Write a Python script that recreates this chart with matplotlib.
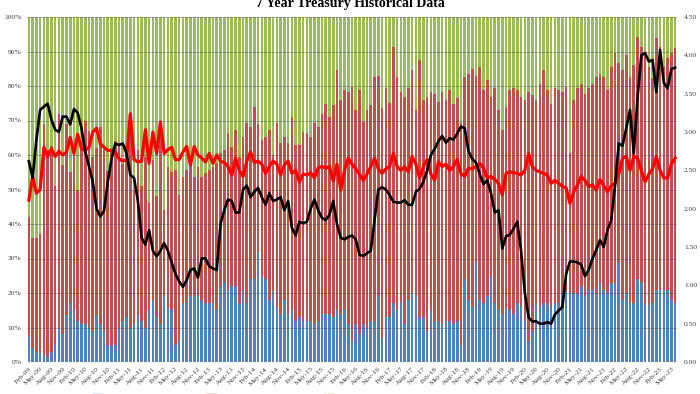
import numpy as np
import pandas as pd
import matplotlib
matplotlib.use("Agg")
import matplotlib.pyplot as plt
from matplotlib.patches import Patch
from matplotlib.lines import Line2D

plt.rcParams['font.family'] = ['Liberation Serif', 'DejaVu Serif']

# monthly 7y auctions, Feb-09 .. Jun-23
months = pd.date_range("2009-02-01", periods=173, freq="MS")

# Direct take (% of total)
direct = [
    7.5, 4, 3, 2.5, 2, 1.5, 3, 5, 10, 8, 13.5, 17, 15, 12, 11, 11, 10, 9, 13.5, 11,
    9, 5, 4.5, 5, 10, 12, 13, 10, 11, 13.5, 12, 10, 15, 18, 13,
    11, 19, 16, 15, 5, 6, 17, 17, 19, 19, 19, 18, 17, 17, 17, 15, 22, 23, 21, 22,
    22, 17, 21, 17, 24, 24, 32, 25, 24, 18, 21, 16, 14, 18,
    14, 15, 12, 13, 12, 12, 12, 11, 12, 14, 14, 14, 13, 15, 14, 15, 11, 6, 11, 8,
    11, 10, 12, 12, 19, 7, 13, 13, 17, 15, 17, 11, 18, 20,
    19, 13, 13, 9, 15, 12, 12, 11, 12, 12, 11, 12, 5, 24, 18, 16, 29, 18, 17, 19,
    25, 17, 15, 14, 16, 15, 14, 17, 16, 12, 6, 9, 17, 16,
    17, 17, 16, 17, 17, 20, 20.5, 20, 20, 20, 22, 19, 21, 21, 20, 23, 21, 20, 23, 23,
    28.6, 18, 20, 17, 17, 24, 23, 17, 16.5, 17, 21, 21, 21, 21, 18, 17,
]

# Dealer take (% of total)
dealer = [
    58, 64, 64, 63, 31, 38.5, 37.5, 49, 28, 43, 31, 45, 38.5, 50, 36, 30, 33, 40.5, 38, 32,
    38.5, 44.5, 38.5, 36, 36.5, 42.5, 37.5, 33, 50, 38.5, 49, 40.5, 54, 41.5, 52,
    31, 56, 43.4, 45, 44.3, 51.6, 46.3, 44.3, 40.5, 46.3, 43.4, 46.3, 45.3, 44.3, 43.4,
    42.4, 39.5, 38.5, 33.7, 37.6, 32.8, 40.5, 34.7, 30.8, 31.8, 26, 31, 35.7, 34.7,
    32.8, 40, 30.8, 36.6, 34.7,
    36.6, 29, 37, 37.1, 33.2, 33.7, 34.7, 30.8, 31.8, 28, 25.1, 29, 25.6, 15.5, 24.1,
    21.2, 21.7, 20.2, 27, 21.2, 30.4, 27, 25.6, 17.5, 17, 26.5, 20.7, 25, 8.6, 17.5,
    21.7, 23.1, 20.7, 15.5,
    27, 12.6, 24.1, 23.1, 21.7, 22.2, 24.6, 21.7, 24.1, 21.2, 25.1, 23.6, 30.8, 17.5,
    16.4, 15, 17, 14.4, 21.2, 18.4, 23.1, 20.7, 27, 32.8, 26, 21.2, 20.7, 21.2, 23.1,
    24.1, 21.7, 22.6, 24.1, 19.3,
    15.5, 21.2, 25.1, 20.7, 21.2, 21.7, 20.2, 39.5, 24.1, 20.7, 19.3, 22.2, 20.7, 19.3,
    17.5, 16.5, 17.4, 21.2, 14.4, 10.5, 13.4, 15.4, 11, 17.4, 14, 5.8, 8.6, 10, 14.4,
    17.8, 6.2, 8.6, 14.4, 12, 10.5, 9,
]

# Bid to cover (RHS)
btc = [
    2.11, 2.42, 2.20, 2.25, 2.80, 2.68, 2.78, 2.68, 2.75, 2.70, 2.74, 2.93, 2.72, 2.97,
    2.78, 2.76, 2.80, 3.00, 3.05, 2.85, 2.80, 2.76, 2.76, 2.74, 2.65, 2.62, 2.64, 3.24,
    2.64, 2.61, 2.62, 3.03, 2.59, 3.00, 2.72,
    3.13, 2.72, 2.77, 2.80, 2.64, 2.64, 2.74, 2.81, 2.57, 2.81, 2.70, 2.66, 2.61, 2.72,
    2.59, 2.70, 2.62, 2.60, 2.55, 2.44, 2.66, 2.50, 2.42, 2.62, 2.74, 2.60, 2.62, 2.58,
    2.46, 2.55, 2.62, 2.58, 2.44, 2.57,
    2.62, 2.46, 2.50, 2.35, 2.45, 2.44, 2.47, 2.40, 2.53, 2.55, 2.53, 2.55, 2.36, 2.58,
    2.24, 2.50, 2.66, 2.58, 2.52, 2.45, 2.37, 2.45, 2.55, 2.66, 2.52, 2.46, 2.52, 2.55,
    2.72, 2.55, 2.50, 2.55, 2.48, 2.68,
    2.58, 2.40, 2.55, 2.64, 2.45, 2.37, 2.61, 2.55, 2.58, 2.50, 2.55, 2.64, 2.46, 2.42,
    2.53, 2.52, 2.55, 2.59, 2.53, 2.40, 2.42, 2.38, 2.33, 2.18, 2.46, 2.48, 2.47, 2.46,
    2.44, 2.50, 2.72, 2.55, 2.50, 2.48,
    2.46, 2.44, 2.33, 2.37, 2.33, 2.29, 2.27, 2.07, 2.22, 2.31, 2.42, 2.37, 2.29, 2.31,
    2.24, 2.38, 2.30, 2.22, 2.30, 2.33, 2.45, 2.66, 2.68, 2.50, 2.68, 2.66, 2.50, 2.35,
    2.45, 2.52, 2.68, 2.50, 2.40, 2.40, 2.58, 2.66,
]

# High yield (RHS)
high_yield = [
    2.62, 2.40, 2.90, 3.29, 3.33, 3.37, 3.16, 3.03, 3.00, 3.20, 3.20, 3.10, 3.30, 3.25,
    3.05, 2.75, 2.55, 2.35, 2.00, 1.90, 1.97, 2.35, 2.65, 2.85, 2.83, 2.85, 2.72, 2.44,
    2.40, 2.10, 1.62, 1.53, 1.72, 1.45, 1.38,
    1.45, 1.55, 1.45, 1.30, 1.15, 1.05, 0.98, 1.07, 1.20, 1.22, 1.10, 1.35, 1.35, 1.25,
    1.22, 1.20, 1.80, 1.98, 2.12, 2.10, 1.95, 1.95, 2.25, 2.30, 2.15, 2.22, 2.27, 2.15,
    2.05, 2.20, 2.10, 2.12, 2.15, 1.98,
    2.10, 1.75, 1.65, 1.83, 1.81, 1.83, 2.00, 2.12, 1.98, 1.88, 1.85, 1.92, 2.10, 1.80,
    1.62, 1.60, 1.63, 1.65, 1.60, 1.40, 1.38, 1.42, 1.45, 1.85, 2.25, 2.28, 2.25, 2.18,
    2.09, 2.08, 2.08, 2.11, 2.05, 2.05,
    2.22, 2.26, 2.35, 2.50, 2.70, 2.78, 2.88, 2.95, 2.86, 2.92, 2.90, 2.98, 3.07, 3.05,
    2.75, 2.65, 2.60, 2.45, 2.32, 2.37, 2.20, 1.95, 1.98, 1.48, 1.64, 1.66, 1.74, 1.83,
    1.45, 0.90, 0.58, 0.53, 0.53, 0.50,
    0.50, 0.52, 0.50, 0.62, 0.67, 0.72, 1.15, 1.31, 1.31, 1.30, 1.27, 1.12, 1.20, 1.35,
    1.46, 1.59, 1.50, 1.72, 1.85, 2.30, 2.85, 2.82, 3.05, 3.29, 2.72, 3.45, 4.00, 4.03,
    3.92, 3.94, 3.52, 4.07, 3.64, 3.57, 3.82, 3.84,
]

direct = np.array(direct)
dealer = np.array(dealer)
indirect = 100 - direct - dealer
x = np.arange(len(months))

fig = plt.figure(figsize=(7, 3.94), dpi=100)
ax = fig.add_axes([27/700, 1 - 362/394, 650/700, 345/394])
ax2 = ax.twinx()

w = 0.7
ax.bar(x, direct, width=w, color="#4F81BD", lw=0)
ax.bar(x, indirect, width=w, bottom=direct, color="#C0504D", lw=0)
ax.bar(x, dealer, width=w, bottom=direct + indirect, color="#9BBB59", lw=0)

ax2.plot(x, btc, color="#FF0000", lw=2.3, solid_joinstyle="round")
ax2.plot(x, high_yield, color="black", lw=1.9, solid_joinstyle="round")

ax.set_xlim(-0.5, len(x) - 0.5)
ax.set_ylim(0, 100)
ax.set_yticks(np.arange(0, 101, 10))
ax.set_yticklabels([f"{v}%" for v in range(0, 101, 10)])
ax2.set_ylim(0, 4.5)
ax2.set_yticks(np.arange(0, 4.51, 0.5))
ax2.set_yticklabels([f"{v:.2f}" for v in np.arange(0, 4.51, 0.5)])

ax.set_axisbelow(False)
ax.yaxis.grid(True, color="#5a5a5a", lw=0.6, alpha=0.5)

ax.set_xticks(x[::3])
ax.set_xticklabels([d.strftime("%b-%y") for d in months[::3]],
                   rotation=45, ha="right", rotation_mode="anchor")

for a in (ax, ax2):
    for s in a.spines.values():
        s.set_visible(False)
ax.tick_params(axis="both", length=0, labelsize=5.4, colors="#404040")
ax.tick_params(axis="y", pad=4)
ax.tick_params(axis="x", pad=3)
ax2.tick_params(axis="y", length=0, labelsize=5.4, colors="#404040", pad=5)

fig.text(0.5, 1 - 6.5/394, "7 Year Treasury Historical Data", ha="center",
         va="baseline", fontsize=10, fontweight="bold")

handles = [Patch(color="#4F81BD"), Patch(color="#C0504D"), Patch(color="#9BBB59"),
           Line2D([], [], color="#FF0000", lw=2), Line2D([], [], color="black", lw=2)]
labels = ["Direct Take (% of Total)", "Indirect Take (% of Total)",
          "Dealer Take (% of Total)", "Bid to Cover (RHS)", "High Yield (RHS)"]
fig.legend(handles, labels, loc="upper center", bbox_to_anchor=(0.5, 0.018),
           ncol=5, frameon=False, fontsize=5.4, handlelength=1.5, columnspacing=3)

fig.savefig("out.png", dpi=100)
